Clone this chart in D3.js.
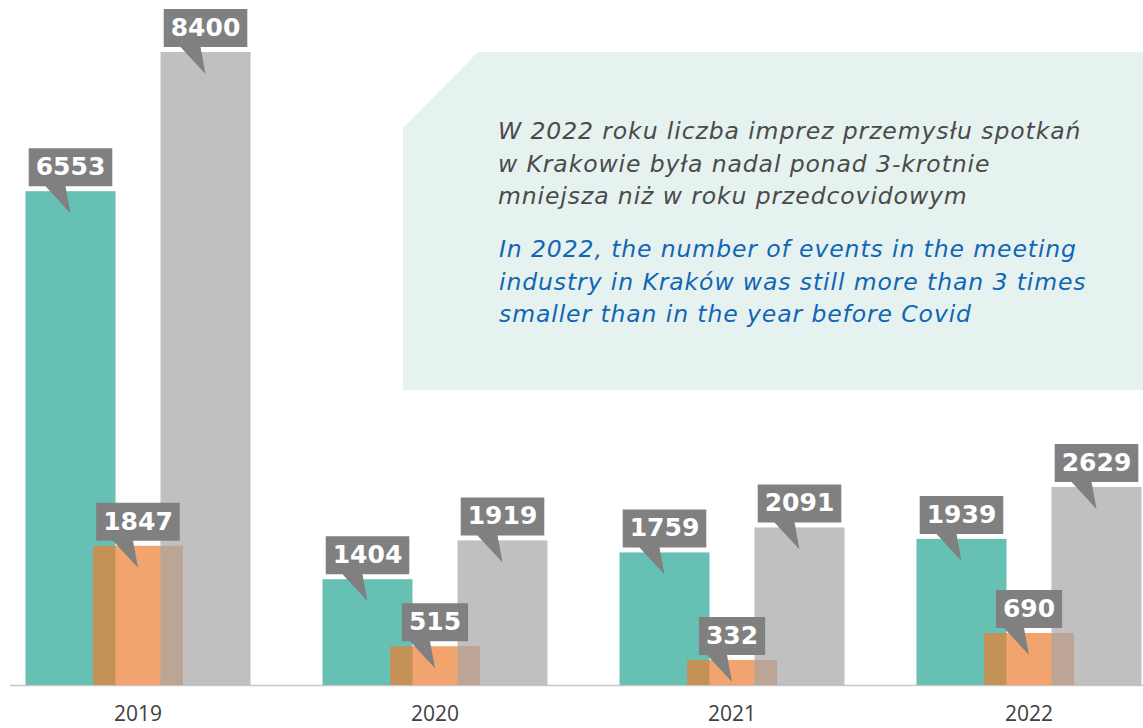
<!DOCTYPE html>
<html>
<head>
<meta charset="utf-8">
<script src="https://cdn.jsdelivr.net/npm/d3@7"></script>
<style>
  html, body { margin: 0; padding: 0; background: #fff; }
  svg { display: block; }
</style>
</head>
<body>
<div id="chart"></div>
<script>
const years = ['2019', '2020', '2021', '2022'];
const seriesNames = ['teal', 'orange', 'gray'];
const tealVals = [6553, 1404, 1759, 1939];
const orangeVals = [1847, 515, 332, 690];
const grayVals = [8400, 1919, 2091, 2629];

const noteLinesPl = [
    'W 2022 roku liczba imprez przemysłu spotkań',
    'w Krakowie była nadal ponad 3-krotnie',
    'mniejsza niż w roku przedcovidowym'
];
const noteLinesEn = [
    'In 2022, the number of events in the meeting',
    'industry in Kraków was still more than 3 times',
    'smaller than in the year before Covid'
];

//=====================plot size=========================
var width = 1143, height = 728;
var baseY = 685;

var svg = d3.select('#chart')
    .append('svg')
    .attr('width', width)
    .attr('height', height);

//====== note box ======
svg.append('polygon')
    .attr('points', '403,128 478,52 1143,52 1143,390 403,390')
    .style('fill', '#e6f2f0');

var noteFont = '"DejaVu Sans", sans-serif';
svg.append('g').selectAll('text')
    .data(noteLinesPl)
    .enter()
    .append('text')
    .attr('x', 498)
    .attr('y', function(d, i){ return 139 + i * 32.5; })
    .style('font-family', noteFont)
    .style('font-style', 'italic')
    .style('font-size', '23.5px')
    .style('letter-spacing', '0.9px')
    .style('fill', '#4a4a4a')
    .text(function(d){ return d; });

svg.append('g').selectAll('text')
    .data(noteLinesEn)
    .enter()
    .append('text')
    .attr('x', 499)
    .attr('y', function(d, i){ return 257 + i * 32.5; })
    .style('font-family', noteFont)
    .style('font-style', 'italic')
    .style('font-size', '23.5px')
    .style('letter-spacing', '0.9px')
    .style('fill', '#1166b3')
    .text(function(d){ return d; });

//====== scales ======
var x = d3.scaleBand()
    .domain(years)
    .range([-10.5, 1177.5]);

var xs = d3.scalePoint()
    .domain(seriesNames)
    .range([-67.5, 67.5]);

var y = d3.scaleLinear()
    .domain([0, 8400])
    .range([baseY, 52]);

var barW = 90;

//====== axis ======
svg.append('line')
    .attr('x1', 10).attr('x2', width)
    .attr('y1', baseY + 0.5).attr('y2', baseY + 0.5)
    .style('stroke', '#c8c8c8')
    .style('stroke-width', 1.5);

var axis = svg.append('g')
    .attr('transform', 'translate(0,' + baseY + ')')
    .call(d3.axisBottom(x).tickSize(0).tickPadding(21));
axis.select('.domain').remove();
axis.selectAll('text')
    .style('font-family', '"Open Sans", sans-serif')
    .style('font-size', '21px')
    .style('fill', '#404040');

//====== bars ======
var series = [
    {name: 'teal', vals: tealVals, color: '#66c0b3', opacity: 1},
    {name: 'orange', vals: orangeVals, color: '#ed7d31', opacity: 0.7},
    {name: 'gray', vals: grayVals, color: '#a5a5a5', opacity: 0.7}
];

function cx(year, name){
    return x(year) + x.bandwidth() / 2 + xs(name);
}

series.forEach(function(s){
    svg.append('g')
    .selectAll('rect')
    .data(years)
    .enter()
    .append('rect')
    .attr('x', function(d){ return cx(d, s.name) - barW / 2; })
    .attr('y', function(d, i){ return y(s.vals[i]); })
    .attr('width', barW)
    .attr('height', function(d, i){ return baseY - y(s.vals[i]); })
    .style('fill', s.color)
    .style('opacity', s.opacity);
});

//====== value callouts ======
var labelG = svg.append('g');
series.forEach(function(s){
    years.forEach(function(yr, i){
        var c = cx(yr, s.name);
        var top = y(s.vals[i]);
        var g = labelG.append('g');
        var t = g.append('text')
            .attr('x', c)
            .attr('y', top - 16)
            .attr('text-anchor', 'middle')
            .style('font-family', '"DejaVu Sans", sans-serif')
            .style('font-weight', 'bold')
            .style('font-size', '25px')
            .style('fill', '#fff')
            .text(s.vals[i]);
        var w = t.node().getComputedTextLength() + 14;
        var b = top - 5;
        g.insert('path', 'text')
            .attr('d', 'M' + (c - w / 2) + ',' + (b - 38) +
                'H' + (c + w / 2) + 'V' + b +
                'H' + (c - 5) + 'L' + c + ',' + (top + 22) +
                'L' + (c - 25) + ',' + b +
                'H' + (c - w / 2) + 'Z')
            .style('fill', '#808080');
    });
});
</script>
</body>
</html>
